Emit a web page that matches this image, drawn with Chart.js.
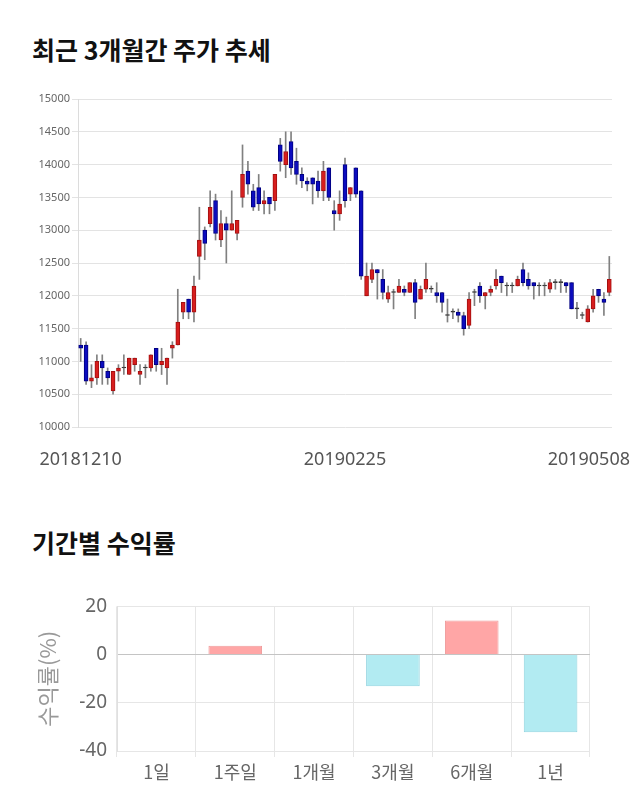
<!DOCTYPE html>
<html>
<head>
<meta charset="utf-8">
<script src="https://cdn.jsdelivr.net/npm/chart.js@4.4.1/dist/chart.umd.min.js"></script>
<style>
  body { margin: 0; background: #fff; font-family: "Noto Sans CJK KR", "Noto Sans", sans-serif; }
  .title { position: absolute; left: 32px; font-size: 25px; font-weight: bold; color: #111; }
  .box { position: absolute; left: 0; width: 640px; }
</style>
</head>
<body>
<div class="title" style="top:31px">최근 3개월간 주가 추세</div>
<div class="box" style="top:80px;height:400px"><canvas id="priceChart"></canvas></div>
<div class="title" style="top:524px">기간별 수익률</div>
<div class="box" style="top:585px;height:215px"><canvas id="returnChart"></canvas></div>
<script>
// trading days shown on the price chart
const dates = [
  "20181210","20181211","20181212","20181213","20181214","20181217","20181218","20181219","20181220","20181221",
  "20181224","20181226","20181227","20181228",
  "20190102","20190103","20190104","20190107","20190108","20190109","20190110","20190111","20190114","20190115",
  "20190116","20190117","20190118","20190121","20190122","20190123","20190124","20190125","20190128","20190129",
  "20190130","20190131",
  "20190201","20190207","20190208","20190211","20190212","20190213","20190214","20190215","20190218","20190219",
  "20190220","20190221","20190222","20190225","20190226","20190227","20190228",
  "20190304","20190305","20190306","20190307","20190308","20190311","20190312","20190313","20190314","20190315",
  "20190318","20190319","20190320","20190321","20190322","20190325","20190326","20190327","20190328","20190329",
  "20190401","20190402","20190403","20190404","20190405","20190408","20190409","20190410","20190411","20190412",
  "20190415","20190416","20190417","20190418","20190419","20190422","20190423","20190424","20190425","20190426",
  "20190429","20190430",
  "20190502","20190503","20190507","20190508"
];
const dateTicks = ["20181210", "20190225", "20190508"];

const opens = [
  11250,11250,10700,10750,11000,10850,10550,10850,10900,10800,10950,10800,10900,10900,11200,10950,10900,11200,11250,11750,
  11950,11750,12600,13000,13100,13450,12850,13100,13000,12950,13500,13900,13600,13650,13400,13500,13450,14300,14000,14350,
  14050,13850,13750,13800,13750,13600,13950,13300,13250,14000,13550,13950,13600,12000,12250,12400,12250,11950,12050,12050,
  12100,12050,12200,11950,12100,12100,12050,12050,11700,11750,11750,11700,11550,12050,12150,12000,12050,12150,12300,12150,
  12150,12150,12400,12250,12200,12150,12150,12100,12200,12200,12200,12200,11800,11700,11600,11800,12100,11950,12050
];
const highs = [
  11350,11300,10950,11100,11100,10900,10850,10950,11100,11050,11050,10950,10950,11100,11200,11200,11050,11300,12100,11900,
  11950,12300,13350,13050,13600,13550,13300,13200,13600,13150,14300,14050,13700,13850,13600,13500,13850,14400,14500,14500,
  14250,13950,13800,13800,13900,14050,13950,13450,13600,14100,13650,13950,13600,12500,12500,12400,12400,12150,12100,12250,
  12150,12200,12250,12150,12500,12150,12200,12050,11950,11800,11800,11750,12050,12100,12200,12050,12150,12400,12300,12200,
  12200,12300,12500,12350,12200,12200,12200,12250,12250,12250,12200,12200,11900,11750,11850,12100,12100,12050,12600
];
const lows = [
  11000,10650,10600,10650,10650,10650,10500,10700,10800,10800,10850,10650,10750,10850,10850,10800,10650,11050,11250,11650,
  11650,11600,12250,12550,13050,12850,12750,12500,13000,12850,13350,13550,13300,13300,13250,13250,13300,13900,13800,13850,
  13700,13650,13600,13400,13500,13450,13450,13000,13150,13350,13450,13500,12250,12000,12200,11950,11950,11900,11800,12050,
  12000,12050,11650,11950,12050,12050,11900,11750,11600,11650,11600,11400,11500,11850,11900,11800,12000,12100,12050,12000,
  12050,12150,12150,12100,11950,12000,12000,12050,12100,12050,12050,11800,11650,11650,11600,11750,11900,11700,12000
];
const closes = [
  11200,10700,10750,11000,10900,10750,10850,10900,10900,11050,11050,10850,10900,11100,10950,11000,11050,11250,11600,11900,
  11750,12150,12850,12800,13350,12950,13100,13000,13100,13150,13850,13700,13350,13400,13450,13400,13850,14050,14200,13950,
  13850,13750,13700,13700,13600,13900,13500,13250,13400,13450,13650,13550,12300,12300,12400,12350,12050,12050,12050,12150,
  12050,12200,11900,12100,12250,12100,12000,11900,11700,11750,11700,11500,11950,12050,12000,12050,12100,12250,12200,12150,
  12150,12250,12200,12150,12150,12150,12150,12200,12200,12200,12150,11800,11800,11700,11800,12000,12000,11900,12250
];

// period returns (%)
const periods = ["1일", "1주일", "1개월", "3개월", "6개월", "1년"];
const returns = [0, 3.7, 0.4, -13.1, 14.1, -32.2];

const upColor = "#d71e1e", upEdge = "#a31010";
const downColor = "#0c0cbf", downEdge = "#000080";
const flatColor = "#333";

const candleFill = opens.map((o, i) => closes[i] > o ? upColor : closes[i] < o ? downColor : flatColor);
const candleEdge = opens.map((o, i) => closes[i] > o ? upEdge : closes[i] < o ? downEdge : flatColor);

new Chart(document.getElementById("priceChart"), {
  type: "bar",
  data: {
    labels: dates,
    datasets: [
      {
        data: opens.map((o, i) => [o, closes[i]]),
        backgroundColor: candleFill,
        borderColor: candleEdge,
        borderWidth: 1,
        borderSkipped: false,
        barThickness: 4,
        minBarLength: 1,
        grouped: false,
        order: 0,
      },
      {
        data: lows.map((l, i) => [l, highs[i]]),
        backgroundColor: "#808080",
        barThickness: 1,
        grouped: false,
        order: 1,
      },
    ],
  },
  options: {
    responsive: true,
    maintainAspectRatio: false,
    animation: false,
    layout: { padding: { top: 19, right: 28, bottom: 53, left: 0 } },
    plugins: { legend: { display: false }, tooltip: { enabled: false } },
    scales: {
      x: {
        offset: true,
        grid: { display: false },
        border: { display: false },
        ticks: { display: false },
        afterFit: (s) => { s.height = 0; },
      },
      y: {
        min: 10000,
        max: 15000,
        ticks: {
          stepSize: 500,
          color: "#666",
          font: { size: 11, family: "Noto Sans" },
          padding: 2,
          callback: (v) => String(v),
        },
        grid: { color: "#e3e3e3", tickLength: 6 },
        border: { color: "#dcdcdc" },
        afterFit: (s) => { s.width = 78; },
      },
    },
  },
  plugins: [
    {
      id: "dateLabels",
      afterDraw(chart) {
        const { ctx, chartArea } = chart;
        const xs = chart.scales.x;
        ctx.save();
        ctx.font = '18px "Noto Sans"';
        ctx.fillStyle = "#555";
        ctx.textAlign = "center";
        ctx.textBaseline = "middle";
        dateTicks.forEach((d) => {
          const w = ctx.measureText(d).width;
          let px = xs.getPixelForValue(dates.indexOf(d));
          px = Math.min(Math.max(px, w / 2 + 4), chart.width - w / 2 - 10);
          ctx.fillText(d, px, chartArea.bottom + 33);
        });
        ctx.restore();
      },
    },
  ],
});

new Chart(document.getElementById("returnChart"), {
  type: "bar",
  data: {
    labels: periods,
    datasets: [
      {
        data: returns,
        backgroundColor: returns.map((v) => (v >= 0 ? "#ffa6a6" : "#b2ebf2")),
        borderColor: returns.map((v) => (v >= 0 ? "#ef9a9a" : "#8fd3df")),
        borderWidth: 1,
        categoryPercentage: 0.85,
        barPercentage: 0.8,
      },
    ],
  },
  options: {
    responsive: true,
    maintainAspectRatio: false,
    animation: false,
    layout: { padding: { top: 10, right: 50, bottom: 0, left: 30 } },
    plugins: { legend: { display: false }, tooltip: { enabled: false } },
    scales: {
      x: {
        grid: { color: "#e6e6e6", tickLength: 6 },
        border: { display: false },
        ticks: { color: "#666", font: { size: 18, family: "Noto Sans CJK KR" }, padding: 4 },
        afterFit: (s) => { s.height = 49; },
      },
      y: {
        min: -40,
        max: 20,
        ticks: { stepSize: 20, color: "#666", font: { size: 19, family: "Noto Sans" }, padding: 10 },
        grid: {
          drawTicks: false,
          color: (c) => (c.tick && c.tick.value === 0 ? "#c4c4c4" : "#e6e6e6"),
        },
        border: { color: "#e0e0e0" },
        title: { display: true, text: "수익률(%)", color: "#999", font: { size: 22, family: "Noto Sans CJK KR" } },
        afterFit: (s) => { s.width = 87; },
      },
    },
  },
});
</script>
</body>
</html>
